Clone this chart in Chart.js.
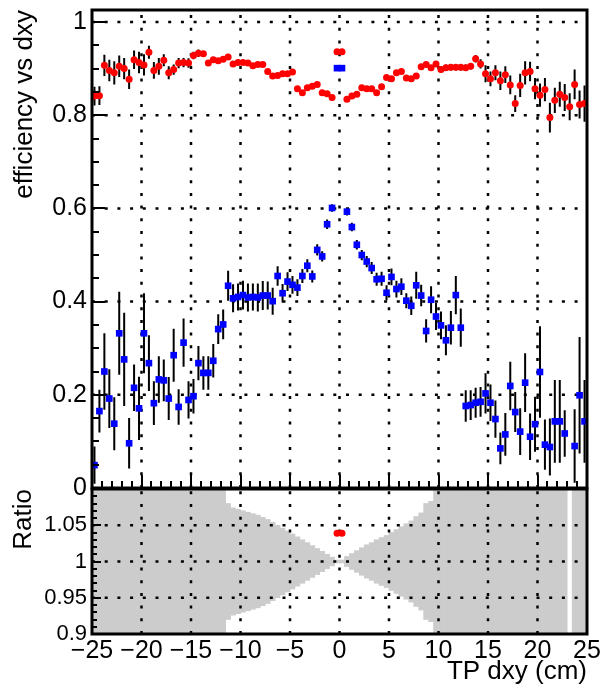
<!DOCTYPE html>
<html>
<head>
<meta charset="utf-8">
<script src="https://cdn.jsdelivr.net/npm/chart.js@4/dist/chart.umd.min.js"></script>
<style>
  body { margin: 0; background: #fff; }
  #wrap { position: relative; width: 600px; height: 692px; overflow: hidden; }
  #effCanvas { position: absolute; left: 0; top: 0; }
  #ratioCanvas { position: absolute; left: 0; top: 470px; }
</style>
</head>
<body>
<div id="wrap">
  <canvas id="effCanvas" width="600" height="500"></canvas>
  <canvas id="ratioCanvas" width="600" height="222"></canvas>
</div>
<script>
// bin centres of TP dxy (cm), 0.5 cm bins
const binCenters = [
  -24.75, -24.25, -23.75, -23.25, -22.75, -22.25, -21.75, -21.25, -20.75, -20.25,
  -19.75, -19.25, -18.75, -18.25, -17.75, -17.25, -16.75, -16.25, -15.75, -15.25,
  -14.75, -14.25, -13.75, -13.25, -12.75, -12.25, -11.75, -11.25, -10.75, -10.25,
  -9.75, -9.25, -8.75, -8.25, -7.75, -7.25, -6.75, -6.25, -5.75, -5.25,
  -4.75, -4.25, -3.75, -3.25, -2.75, -2.25, -1.75, -1.25, -0.75, -0.25,
  0.25, 0.75, 1.25, 1.75, 2.25, 2.75, 3.25, 3.75, 4.25, 4.75,
  5.25, 5.75, 6.25, 6.75, 7.25, 7.75, 8.25, 8.75, 9.25, 9.75,
  10.25, 10.75, 11.25, 11.75, 12.25, 12.75, 13.25, 13.75, 14.25, 14.75,
  15.25, 15.75, 16.25, 16.75, 17.25, 17.75, 18.25, 18.75, 19.25, 19.75,
  20.25, 20.75, 21.25, 21.75, 22.25, 22.75, 23.25, 23.75, 24.25, 24.75
];

const redEff = [
  0.841, 0.842, 0.907, 0.896, 0.891, 0.905, 0.900, 0.877, 0.919, 0.913,
  0.908, 0.935, 0.896, 0.905, 0.918, 0.891, 0.898, 0.912, 0.913, 0.912,
  0.928, 0.933, 0.932, 0.912, 0.919, 0.917, 0.920, 0.925, 0.910, 0.913,
  0.913, 0.912, 0.906, 0.909, 0.909, 0.894, 0.884, 0.885, 0.889, 0.889,
  0.893, 0.857, 0.848, 0.859, 0.862, 0.866, 0.848, 0.846, 0.838, 0.936,
  0.936, 0.834, 0.841, 0.845, 0.859, 0.857, 0.857, 0.848, 0.861, 0.881,
  0.878, 0.891, 0.894, 0.880, 0.878, 0.884, 0.904, 0.909, 0.902, 0.910,
  0.898, 0.902, 0.903, 0.903, 0.903, 0.902, 0.905, 0.921, 0.910, 0.889,
  0.878, 0.891, 0.874, 0.887, 0.865, 0.825, 0.864, 0.891, 0.894, 0.857,
  0.843, 0.855, 0.795, 0.832, 0.845, 0.838, 0.818, 0.866, 0.823, 0.825
];

const redErr = [
  0.020, 0.020, 0.023, 0.023, 0.025, 0.023, 0.023, 0.021, 0.020, 0.023,
  0.023, 0.014, 0.018, 0.018, 0.013, 0.014, 0.011, 0.011, 0.010, 0.010,
  0.008, 0.008, 0.006, 0.006, 0.006, 0.006, 0.006, 0.006, 0.006, 0.006,
  0.005, 0.005, 0.005, 0.005, 0.005, 0.005, 0.005, 0.005, 0.005, 0.005,
  0.005, 0.005, 0.005, 0.005, 0.005, 0.005, 0.005, 0.005, 0.005, 0.003,
  0.003, 0.005, 0.005, 0.005, 0.005, 0.005, 0.005, 0.005, 0.005, 0.005,
  0.005, 0.005, 0.005, 0.005, 0.005, 0.005, 0.005, 0.005, 0.005, 0.005,
  0.007, 0.007, 0.007, 0.007, 0.007, 0.007, 0.007, 0.008, 0.010, 0.018,
  0.016, 0.016, 0.020, 0.018, 0.020, 0.018, 0.025, 0.025, 0.021, 0.023,
  0.025, 0.025, 0.032, 0.027, 0.027, 0.029, 0.029, 0.032, 0.030, 0.039
];

const blueEff = [
  0.049, 0.165, 0.250, 0.192, 0.138, 0.332, 0.276, 0.096, 0.215, 0.171,
  0.332, 0.268, 0.182, 0.233, 0.231, 0.192, 0.285, 0.174, 0.312, 0.189,
  0.197, 0.268, 0.247, 0.247, 0.273, 0.341, 0.351, 0.434, 0.407, 0.410,
  0.414, 0.409, 0.410, 0.409, 0.413, 0.413, 0.401, 0.455, 0.418, 0.443,
  0.436, 0.430, 0.455, 0.477, 0.454, 0.511, 0.497, 0.566, 0.601, 0.901,
  0.901, 0.593, 0.560, 0.522, 0.500, 0.486, 0.472, 0.448, 0.449, 0.419,
  0.453, 0.427, 0.432, 0.402, 0.391, 0.435, 0.413, 0.337, 0.404, 0.368,
  0.349, 0.317, 0.344, 0.414, 0.344, 0.176, 0.178, 0.183, 0.185, 0.203,
  0.183, 0.148, 0.085, 0.115, 0.219, 0.163, 0.121, 0.226, 0.110, 0.137,
  0.249, 0.093, 0.088, 0.143, 0.143, 0.117, null, 0.090, 0.199, 0.143
];

const blueErr = [
  0.040, 0.046, 0.082, 0.063, 0.057, 0.089, 0.100, 0.054, 0.050, 0.068,
  0.086, 0.060, 0.047, 0.050, 0.045, 0.046, 0.057, 0.038, 0.052, 0.040,
  0.037, 0.037, 0.036, 0.036, 0.036, 0.032, 0.032, 0.032, 0.030, 0.029,
  0.031, 0.030, 0.029, 0.030, 0.031, 0.030, 0.029, 0.021, 0.020, 0.020,
  0.019, 0.018, 0.015, 0.014, 0.013, 0.012, 0.011, 0.010, 0.008, 0.004,
  0.004, 0.008, 0.009, 0.010, 0.011, 0.012, 0.013, 0.014, 0.015, 0.016,
  0.018, 0.018, 0.018, 0.016, 0.020, 0.029, 0.023, 0.025, 0.029, 0.029,
  0.030, 0.032, 0.036, 0.041, 0.041, 0.034, 0.032, 0.032, 0.032, 0.043,
  0.039, 0.040, 0.034, 0.046, 0.052, 0.043, 0.050, 0.063, 0.050, 0.059,
  0.098, 0.054, 0.061, 0.089, 0.089, 0.050, null, 0.079, 0.125, 0.089
];

// half width of the grey ratio uncertainty band around 1 (0.2 = fills the pad)
const ratioHalf = [
  0.2, 0.2, 0.2, 0.2, 0.2, 0.2, 0.2, 0.2, 0.2, 0.2,
  0.2, 0.2, 0.2, 0.2, 0.2, 0.2, 0.2, 0.2, 0.2, 0.2,
  0.2, 0.2, 0.2, 0.2, 0.2, 0.2, 0.2, 0.080, 0.074, 0.072,
  0.070, 0.068, 0.066, 0.064, 0.061, 0.058, 0.054, 0.050, 0.046, 0.042,
  0.038, 0.034, 0.030, 0.026, 0.022, 0.018, 0.014, 0.010, 0.006, 0.002,
  0.002, 0.007, 0.011, 0.015, 0.019, 0.023, 0.026, 0.030, 0.033, 0.036,
  0.040, 0.044, 0.048, 0.052, 0.056, 0.062, 0.067, 0.080, 0.083, 0.2,
  0.2, 0.2, 0.2, 0.2, 0.2, 0.2, 0.2, 0.2, 0.2, 0.2,
  0.2, 0.2, 0.2, 0.2, 0.2, 0.2, 0.2, 0.2, 0.2, 0.2,
  0.2, 0.2, 0.2, 0.2, 0.2, 0.2, null, 0.2, 0.2, 0.2
];

const ratioX = [-0.25, 0.25];
const ratioY = [1.039, 1.039];

const xTicks = [-25, -20, -15, -10, -5, 0, 5, 10, 15, 20, 25];
const xTickLabels = ['\u221225', '\u221220', '\u221215', '\u221210', '\u22125', '0', '5', '10', '15', '20', '25'];
const effTicks = [0, 0.2, 0.4, 0.6, 0.8, 1];
const effTickLabels = ['0', '0.2', '0.4', '0.6', '0.8', '1'];
const ratioTicks = [0.9, 0.95, 1, 1.05, 1.1];
const ratioTickLabels = ['0.9', '0.95', '1', '1.05', ''];

Chart.defaults.font.family = "'Liberation Sans', Arial, sans-serif";
Chart.defaults.color = '#000';

function drawGrid(chart) {
  const { ctx, chartArea: a, scales: { x, y } } = chart;
  ctx.save();
  ctx.strokeStyle = '#000';
  ctx.lineWidth = 2.5;
  ctx.setLineDash([3, 9.7]);
  ctx.beginPath();
  x.ticks.forEach(t => {
    const px = x.getPixelForValue(t.value);
    if (px < a.left + 2 || px > a.right - 2) return;
    ctx.moveTo(px, a.bottom);
    ctx.lineTo(px, a.top);
  });
  y.ticks.forEach(t => {
    const py = y.getPixelForValue(t.value);
    if (py < a.top + 2 || py > a.bottom - 2) return;
    ctx.moveTo(a.left, py);
    ctx.lineTo(a.right, py);
  });
  ctx.stroke();
  ctx.restore();
}

function drawErrors(chart, index) {
  const ds = chart.data.datasets[index];
  if (!ds.errs) return;
  const { ctx, chartArea: a, scales: { y } } = chart;
  const meta = chart.getDatasetMeta(index);
  ctx.save();
  ctx.beginPath();
  ctx.rect(a.left, a.top, a.right - a.left, a.bottom - a.top);
  ctx.clip();
  ctx.strokeStyle = '#000';
  ctx.lineWidth = 2;
  ctx.beginPath();
  ds.data.forEach((d, i) => {
    const e = ds.errs[i];
    if (d.y === null || e === null) return;
    const px = meta.data[i].x;
    ctx.moveTo(px, y.getPixelForValue(d.y + e));
    ctx.lineTo(px, y.getPixelForValue(d.y - e));
  });
  ctx.stroke();
  ctx.restore();
}

function isMajor(v, step) {
  const r = v / step;
  return Math.abs(r - Math.round(r)) < 1e-6;
}

function drawFrame(chart, o) {
  const { ctx, chartArea: a, scales: { x, y } } = chart;
  ctx.save();
  ctx.strokeStyle = '#000';
  ctx.lineWidth = 2;
  ctx.beginPath();
  for (let k = Math.ceil(y.min / o.yMinor - 1e-6); k <= Math.floor(y.max / o.yMinor + 1e-6); k++) {
    const v = k * o.yMinor;
    const len = isMajor(v, o.yMajor) ? o.yMajorLen : o.yMinorLen;
    const py = Math.round(y.getPixelForValue(v));
    ctx.moveTo(a.left, py);
    ctx.lineTo(a.left + len, py);
  }
  if (o.xMajorLen) {
    for (let k = Math.ceil(x.min / o.xMinor - 1e-6); k <= Math.floor(x.max / o.xMinor + 1e-6); k++) {
      const v = k * o.xMinor;
      const len = isMajor(v, o.xMajor) ? o.xMajorLen : o.xMinorLen;
      const px = Math.round(x.getPixelForValue(v));
      ctx.moveTo(px, a.bottom);
      ctx.lineTo(px, a.bottom - len);
    }
  }
  ctx.stroke();
  ctx.lineWidth = 3;
  ctx.strokeRect(a.left, a.top, a.right - a.left, a.bottom - a.top);
  ctx.restore();
}

// ROOT-like pad: dotted grid, error bars, inward ticks and a thick frame
const rootPad = {
  id: 'rootPad',
  beforeDatasetsDraw(chart, args, opts) {
    if (!opts.gridAfterBand) drawGrid(chart);
  },
  beforeDatasetDraw(chart, args) {
    drawErrors(chart, args.index);
  },
  afterDatasetDraw(chart, args, opts) {
    if (opts.gridAfterBand && chart.data.datasets[args.index].type === 'bar') drawGrid(chart);
  },
  afterDraw(chart, args, opts) {
    drawFrame(chart, opts);
  }
};

function points(ys) {
  return binCenters.map((x, i) => ({ x, y: ys[i] }));
}

const xScale = (showLabels, height) => ({
  type: 'linear',
  min: -25,
  max: 25,
  bounds: 'data',
  offset: false,
  afterBuildTicks: s => { s.ticks = xTicks.map(v => ({ value: v })); },
  ticks: {
    display: showLabels,
    callback: (v, i) => xTickLabels[i],
    padding: 2,
    maxRotation: 0,
    autoSkip: false,
    font: { size: 25 }
  },
  grid: { display: false, drawTicks: false },
  border: { display: false },
  title: {
    display: showLabels,
    text: 'TP dxy (cm)',
    align: 'end',
    font: { size: 26 },
    padding: { top: 0, bottom: 5 }
  },
  afterFit: s => { s.height = height; s.paddingLeft = 0; s.paddingRight = 0; }
});

const yScale = (min, max, ticks, labels, size, title, titlePad) => ({
  type: 'linear',
  min,
  max,
  bounds: 'data',
  offset: false,
  afterBuildTicks: s => { s.ticks = ticks.map(v => ({ value: v })); },
  ticks: {
    callback: (v, i) => labels[i],
    padding: 5,
    autoSkip: false,
    font: { size }
  },
  grid: { display: false, drawTicks: false },
  border: { display: false },
  title: {
    display: true,
    text: title,
    align: 'end',
    font: { size: 26 },
    padding: { top: titlePad, bottom: 0 }
  },
  afterFit: s => { s.width = 92; s.paddingTop = 0; s.paddingBottom = 0; }
});

new Chart(document.getElementById('effCanvas'), {
  type: 'scatter',
  data: {
    datasets: [
      {
        label: 'red',
        data: points(redEff),
        errs: redErr,
        pointStyle: 'circle',
        pointRadius: 3.5,
        pointHoverRadius: 3.5,
        pointBackgroundColor: '#ff0000',
        pointBorderWidth: 0,
        showLine: false,
        clip: 0
      },
      {
        label: 'blue',
        data: points(blueEff),
        errs: blueErr,
        pointStyle: 'rect',
        pointRadius: 4.7,
        pointHoverRadius: 4.7,
        pointBackgroundColor: '#0000ff',
        pointBorderWidth: 0,
        showLine: false,
        clip: 0
      }
    ]
  },
  options: {
    responsive: false,
    animation: false,
    events: [],
    layout: { padding: { top: 10, right: 13, left: 0, bottom: 0 } },
    plugins: {
      legend: { display: false },
      tooltip: { enabled: false },
      rootPad: {
        gridAfterBand: false,
        yMajor: 0.2, yMinor: 0.05, yMajorLen: 13, yMinorLen: 7,
        xMajor: 5, xMinor: 1, xMajorLen: 13, xMinorLen: 7
      }
    },
    scales: {
      x: xScale(false, 12),
      y: yScale(0, 1.0258, effTicks, effTickLabels, 25, 'efficiency vs dxy', 9)
    }
  },
  plugins: [rootPad]
});

new Chart(document.getElementById('ratioCanvas'), {
  type: 'bar',
  data: {
    datasets: [
      {
        type: 'scatter',
        label: 'ratio',
        data: ratioX.map((x, i) => ({ x, y: ratioY[i] })),
        pointStyle: 'circle',
        pointRadius: 3.5,
        pointHoverRadius: 3.5,
        pointBackgroundColor: '#ff0000',
        pointBorderWidth: 0,
        showLine: false,
        clip: 0
      },
      {
        type: 'bar',
        label: 'band',
        data: binCenters
          .map((x, i) => ({ x, y: ratioHalf[i] === null ? null : [1 - ratioHalf[i], 1 + ratioHalf[i]] }))
          .filter(d => d.y !== null),
        backgroundColor: '#cccccc',
        borderWidth: 0,
        barPercentage: 1,
        categoryPercentage: 1,
        clip: 0
      }
    ]
  },
  options: {
    responsive: false,
    animation: false,
    events: [],
    layout: { padding: { top: 19, right: 13, left: 0, bottom: 0 } },
    plugins: {
      legend: { display: false },
      tooltip: { enabled: false },
      rootPad: {
        gridAfterBand: true,
        yMajor: 0.05, yMinor: 0.01, yMajorLen: 9, yMinorLen: 5,
        xMajor: 5, xMinor: 1, xMajorLen: 0, xMinorLen: 0
      }
    },
    scales: {
      x: xScale(true, 58),
      y: yScale(0.9, 1.1, ratioTicks, ratioTickLabels, 22, 'Ratio', 8)
    }
  },
  plugins: [rootPad]
});
</script>
</body>
</html>
